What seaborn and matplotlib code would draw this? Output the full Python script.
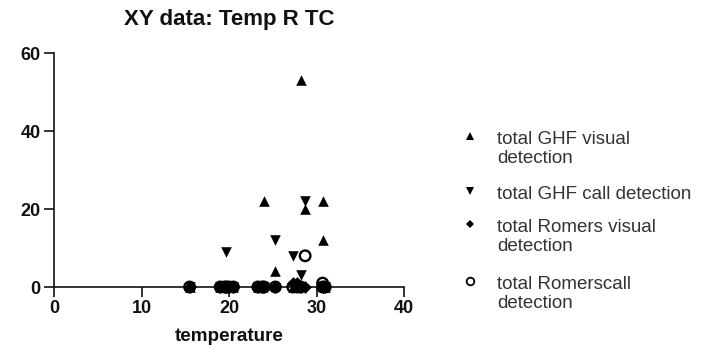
import matplotlib
matplotlib.use("Agg")
import matplotlib.pyplot as plt
import seaborn as sns
import pandas as pd

# ---- data ----
temperature   = [15.5, 19.0, 19.5, 19.7, 20.0, 20.5, 23.3, 23.8, 24.0, 25.3, 27.3, 27.8, 28.2, 28.7, 30.7, 30.7, 31.0]
ghf_visual    = [0, 0, 0, 0, 0, 0, 0, 0, 22, 4, 0, 0, 53, 20, 22, 12, 0]
ghf_call      = [0, 0, 0, 9, 0, 0, 0, 0, 0, 12, 8, 0, 3, 22, 0, 0, 0]
romers_visual = [0, 0, 0, 0, 0, 0, 0, 0, 0, 0, 1, 1, 0, 0, 0, 0, 0]
romers_call   = [0, 0, 0, 0, 0, 0, 0, 0, 0, 0, 0, 0, 0, 8, 1, 0, 0]

series_names = ["total GHF visual\ndetection", "total GHF call detection",
                "total Romers visual\ndetection", "total Romerscall\ndetection"]
x_ticks = [0, 10, 20, 30, 40]
y_ticks = [0, 20, 40, 60]

df = pd.DataFrame({
    "temperature": temperature * 4,
    "count": ghf_visual + ghf_call + romers_visual + romers_call,
    "series": sum([[n] * len(temperature) for n in series_names], []),
})

sns.set_style("ticks")
plt.rcParams["font.family"] = ["Liberation Sans", "DejaVu Sans"]

W, H = 707, 348
fig = plt.figure(figsize=(W / 100, H / 100), dpi=100)
ax = fig.add_axes([54 / W, 61 / H, 350 / W, 234 / H])

styles = {
    series_names[0]: dict(marker="^", s=58, color="black", edgecolor="black", linewidth=0),
    series_names[1]: dict(marker="v", s=58, color="black", edgecolor="black", linewidth=0),
    series_names[2]: dict(marker="D", s=42, color="black", edgecolor="black", linewidth=0),
    series_names[3]: dict(marker="o", s=58, facecolor="none", edgecolor="black", linewidth=1.7),
}
for name in series_names:
    sub = df[df["series"] == name]
    sns.scatterplot(data=sub, x="temperature", y="count", ax=ax, legend=False,
                    clip_on=False, zorder=5, **styles[name])

ax.set_xlim(0, 40)
ax.set_ylim(0, 60)
ax.set_xticks(x_ticks)
ax.set_yticks(y_ticks)
for sp in ["top", "right"]:
    ax.spines[sp].set_visible(False)
for sp in ["left", "bottom"]:
    ax.spines[sp].set_linewidth(1.2)
    ax.spines[sp].set_color("#111111")
ax.tick_params(length=7.5, width=1.2, labelsize=13, pad=2, colors="#111111")
for lab in ax.get_xticklabels() + ax.get_yticklabels():
    lab.set_fontweight("bold")
ax.set_ylabel("")
ax.set_xlabel("temperature", fontsize=13.6, fontweight="bold", labelpad=8, color="#111111")
ax.set_title("XY data: Temp R TC", fontsize=16, fontweight="bold", pad=20, color="#111111")

# ---- legend (manual, marker aligned with first line of each label) ----
lax = fig.add_axes([0, 0, 1, 1])
lax.set_xlim(0, W)
lax.set_ylim(H, 0)
lax.axis("off")
key_y = [136, 191, 224, 281]
leg_marker = {
    series_names[0]: dict(marker="^", markersize=6, color="black", markeredgewidth=0),
    series_names[1]: dict(marker="v", markersize=6, color="black", markeredgewidth=0),
    series_names[2]: dict(marker="D", markersize=4.2, color="black", markeredgewidth=0),
    series_names[3]: dict(marker="o", markersize=5.5, markerfacecolor="none",
                          markeredgecolor="black", markeredgewidth=1.3),
}
for name, yk in zip(series_names, key_y):
    lax.plot([470], [yk], linestyle="none", **leg_marker[name])
    lax.text(497, yk - 5, name, fontsize=13.5, color="#333333", va="top",
             linespacing=1.17, transform=lax.transData)

fig.savefig("out.png", dpi=100)
